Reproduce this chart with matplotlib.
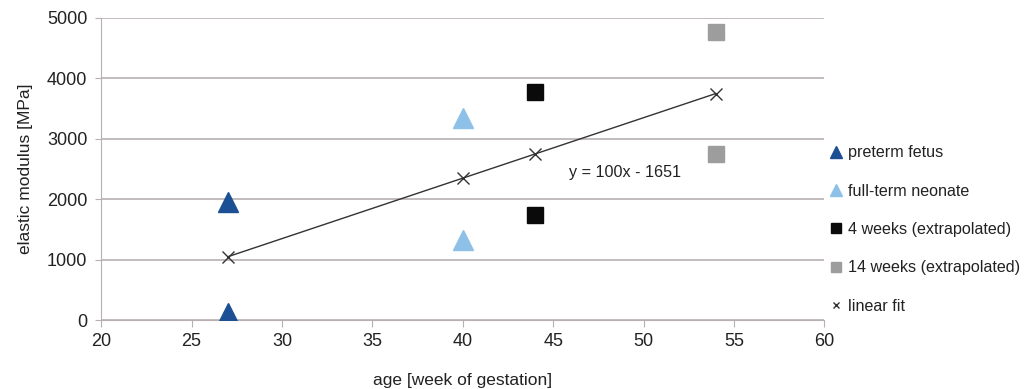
import matplotlib.pyplot as plt
from matplotlib.lines import Line2D

# values
preterm_age = [27, 27]
preterm_mod = [1950, 120]
fullterm_age = [40, 40]
fullterm_mod = [3350, 1330]
wk4_age = [44, 44]
wk4_mod = [3770, 1740]
wk14_age = [54, 54]
wk14_mod = [4770, 2745]
fit_age = [27, 40, 44, 54]
fit_mod = [1049, 2349, 2749, 3749]

x_ticks = [20, 25, 30, 35, 40, 45, 50, 55, 60]
y_ticks = [0, 1000, 2000, 3000, 4000, 5000]

plt.rcParams['font.family'] = 'Liberation Sans'
text_col = '#222222'
grid_col = '#b8b0b0'

fig = plt.figure(figsize=(10.33, 3.89), dpi=100)
ax = fig.add_axes([0.098, 0.177, 0.7, 0.777])

ax.plot(fit_age, fit_mod, color='#333333', lw=1, marker='x', ms=8, mew=1, zorder=3)
ax.plot(preterm_age, preterm_mod, ls='none', marker='^', ms=14, color='#1c4f94',
        label='preterm fetus', zorder=4)
ax.plot(fullterm_age, fullterm_mod, ls='none', marker='^', ms=14, color='#8ec1e8',
        label='full-term neonate', zorder=4)
ax.plot(wk4_age, wk4_mod, ls='none', marker='s', ms=11, color='#0a0a0a',
        label='4 weeks (extrapolated)', zorder=4)
ax.plot(wk14_age, wk14_mod, ls='none', marker='s', ms=11, color='#9d9d9d',
        label='14 weeks (extrapolated)', zorder=4)

ax.text(45.85, 2450, 'y = 100x - 1651', fontsize=11.6, color=text_col, va='center')

ax.set_xlim(20, 60)
ax.set_ylim(0, 5000)
ax.set_xticks(x_ticks)
ax.set_yticks(y_ticks)
ax.yaxis.grid(True, color=grid_col, lw=1.2)
ax.set_axisbelow(True)
for s in ['top', 'right']:
    ax.spines[s].set_visible(False)
ax.spines['left'].set_color(grid_col)
ax.spines['bottom'].set_color(grid_col)
ax.tick_params(axis='both', labelsize=13, colors=text_col)
ax.tick_params(axis='x', color=grid_col, length=5, pad=4)
ax.tick_params(axis='y', color=grid_col, length=4, pad=6)

ax.set_xlabel('age [week of gestation]', fontsize=12.5, color=text_col, labelpad=17)
ax.set_ylabel('elastic modulus [MPa]', fontsize=12.5, color=text_col, labelpad=10)

handles, labels = ax.get_legend_handles_labels()
handles.append(Line2D([], [], ls='none', marker='x', ms=8, mew=1, color='#333333'))
labels.append('linear fit')
leg = ax.legend(handles, labels,
                loc='center left', bbox_to_anchor=(0.995, 0.30), frameon=False,
                fontsize=11.6, labelspacing=1.45, handlelength=0.7, handletextpad=0.4,
                markerscale=0.6, borderaxespad=0.2)
for t in leg.get_texts():
    t.set_color(text_col)

fig.savefig('out.png', dpi=100)
